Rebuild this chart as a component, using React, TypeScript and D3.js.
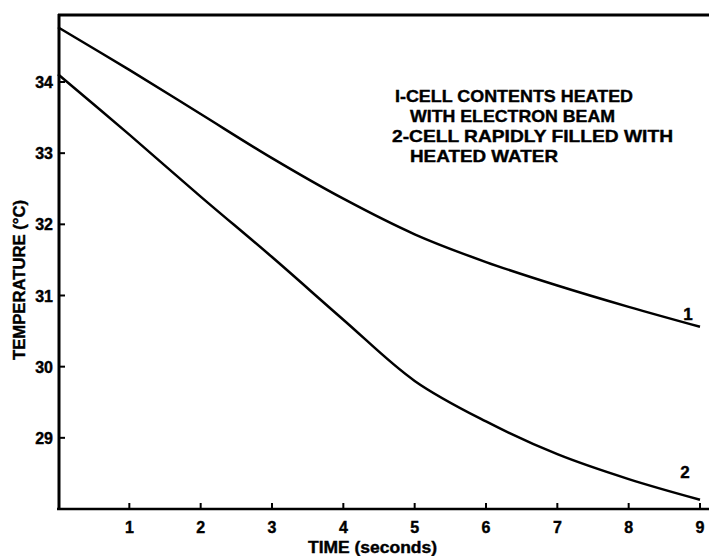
import { useEffect, useRef } from "react";
import * as d3 from "d3";

// time in seconds
const times = [0, 1, 2, 3, 4, 5, 6, 7, 8, 9];
// 1 - cell contents heated with electron beam
const curve1 = [34.77, 34.17, 33.55, 32.93, 32.36, 31.86, 31.47, 31.14, 30.84, 30.56];
// 2 - cell rapidly filled with heated water
const curve2 = [34.11, 33.26, 32.39, 31.54, 30.66, 29.8, 29.23, 28.77, 28.42, 28.13];

const xTicks = [1, 2, 3, 4, 5, 6, 7, 8, 9];
const yTicks = [29, 30, 31, 32, 33, 34];
const noteLines = [
  "I-CELL  CONTENTS  HEATED",
  "WITH  ELECTRON  BEAM",
  "2-CELL  RAPIDLY  FILLED  WITH",
  "HEATED  WATER",
];
const curveLabels = ["1", "2"];

export default function App() {
  const svgRef = useRef<SVGSVGElement | null>(null);

  useEffect(() => {
    if (!svgRef.current) return;
    const width = 709;
    const height = 556;
    const font = "'Liberation Sans', Arial, sans-serif";

    const svg = d3.select(svgRef.current).attr("width", width).attr("height", height);
    svg.selectAll("*").remove();

    const x = d3.scaleLinear().domain([0, 9]).range([58, 700]);
    const y = d3.scaleLinear().domain([28, 34]).range([509, 82]);
    const top = y(34.94);
    const bottom = y(28);

    // heavy lettering look
    const bold = (sel: any, size: number) =>
      sel
        .attr("font-family", font)
        .attr("font-weight", "bold")
        .attr("font-size", size)
        .attr("fill", "#000")
        .attr("stroke", "#000")
        .attr("stroke-width", 0.4);

    // frame: left, top, bottom (no right side)
    svg.append("line")
      .attr("x1", 59).attr("x2", 59).attr("y1", top - 1).attr("y2", bottom + 1)
      .attr("stroke", "#000").attr("stroke-width", 3);
    svg.append("line")
      .attr("x1", 58).attr("x2", width).attr("y1", top).attr("y2", top)
      .attr("stroke", "#000").attr("stroke-width", 3);
    svg.append("line")
      .attr("x1", 57).attr("x2", width).attr("y1", bottom).attr("y2", bottom)
      .attr("stroke", "#000").attr("stroke-width", 2.5);

    // y ticks (pointing inward)
    svg.append("g")
      .selectAll("line")
      .data(yTicks)
      .join("line")
      .attr("x1", 59).attr("x2", 65)
      .attr("y1", (d: number) => y(d)).attr("y2", (d: number) => y(d))
      .attr("stroke", "#000").attr("stroke-width", 2);
    bold(
      svg.append("g")
        .selectAll("text")
        .data(yTicks)
        .join("text")
        .attr("x", 53)
        .attr("y", (d: number) => y(d) + 6)
        .attr("text-anchor", "end")
        .text((d: number) => d),
      16
    );

    // x ticks (pointing up)
    svg.append("g")
      .selectAll("line")
      .data(xTicks)
      .join("line")
      .attr("x1", (d: number) => x(d)).attr("x2", (d: number) => x(d))
      .attr("y1", bottom).attr("y2", bottom - 6)
      .attr("stroke", "#000").attr("stroke-width", 2);
    bold(
      svg.append("g")
        .selectAll("text")
        .data(xTicks)
        .join("text")
        .attr("x", (d: number) => x(d))
        .attr("y", 533)
        .attr("text-anchor", "middle")
        .text((d: number) => d),
      16
    );

    // axis titles
    bold(
      svg.append("text")
        .attr("x", 308).attr("y", 553)
        .attr("textLength", 129).attr("lengthAdjust", "spacingAndGlyphs")
        .text("TIME  (seconds)"),
      16
    );
    bold(
      svg.append("text")
        .attr("transform", `translate(25,360) rotate(-90)`)
        .attr("textLength", 160).attr("lengthAdjust", "spacingAndGlyphs")
        .text("TEMPERATURE  (°C)"),
      16
    );

    // curves
    const line = d3
      .line<number>()
      .x((_: number, i: number) => x(times[i]))
      .y((d: number) => y(d))
      .curve(d3.curveCatmullRom.alpha(0.5));

    [curve1, curve2].forEach((values) => {
      svg.append("path")
        .datum(values)
        .attr("fill", "none")
        .attr("stroke", "#000")
        .attr("stroke-width", 2.5)
        .attr("d", line);
    });

    // curve labels
    bold(
      svg.append("text")
        .attr("x", 688).attr("y", y(curve1[9]) - 7)
        .attr("text-anchor", "middle")
        .text(curveLabels[0]),
      17
    );
    bold(
      svg.append("text")
        .attr("x", 685).attr("y", y(curve2[9]) - 22)
        .attr("text-anchor", "middle")
        .text(curveLabels[1]),
      17
    );

    // note
    const notePos = [
      { x: 395, y: 102, w: 238 },
      { x: 410, y: 122, w: 205 },
      { x: 392, y: 142, w: 281 },
      { x: 410, y: 162, w: 148 },
    ];
    bold(
      svg.append("g")
        .selectAll("text")
        .data(noteLines)
        .join("text")
        .attr("x", (_: string, i: number) => notePos[i].x)
        .attr("y", (_: string, i: number) => notePos[i].y)
        .attr("textLength", (_: string, i: number) => notePos[i].w)
        .attr("lengthAdjust", "spacingAndGlyphs")
        .text((d: string) => d),
      17
    );
  }, []);

  return (
    <div style={{ position: "absolute", left: 0, top: 0 }}>
      <svg ref={svgRef} style={{ display: "block", background: "#fff" }}></svg>
    </div>
  );
}
